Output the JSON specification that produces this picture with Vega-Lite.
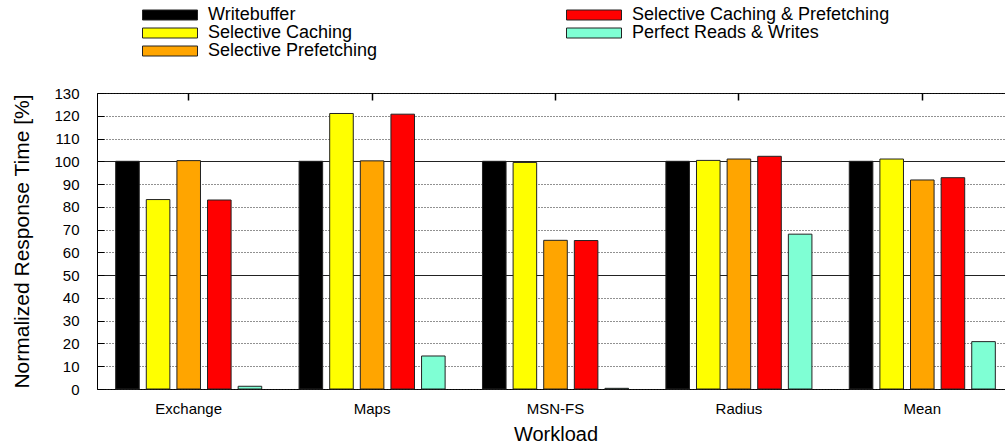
{
  "$schema": "https://vega.github.io/schema/vega-lite/v6.json",
  "autosize": {"type": "none"},
  "padding": {"left": 97, "top": 93, "right": 0, "bottom": 55},
  "width": 908,
  "height": 296,
  "background": "white",
  "data": {
    "values": [
      {"workload": "Exchange", "series": "Writebuffer", "value": 100},
      {"workload": "Exchange", "series": "Selective Caching", "value": 83.2},
      {"workload": "Exchange", "series": "Selective Prefetching", "value": 100.3},
      {"workload": "Exchange", "series": "Selective Caching & Prefetching", "value": 83},
      {"workload": "Exchange", "series": "Perfect Reads & Writes", "value": 1.2},
      {"workload": "Maps", "series": "Writebuffer", "value": 100},
      {"workload": "Maps", "series": "Selective Caching", "value": 121},
      {"workload": "Maps", "series": "Selective Prefetching", "value": 100.2},
      {"workload": "Maps", "series": "Selective Caching & Prefetching", "value": 120.7},
      {"workload": "Maps", "series": "Perfect Reads & Writes", "value": 14.5},
      {"workload": "MSN-FS", "series": "Writebuffer", "value": 100},
      {"workload": "MSN-FS", "series": "Selective Caching", "value": 99.5},
      {"workload": "MSN-FS", "series": "Selective Prefetching", "value": 65.3},
      {"workload": "MSN-FS", "series": "Selective Caching & Prefetching", "value": 65.2},
      {"workload": "MSN-FS", "series": "Perfect Reads & Writes", "value": 0.3},
      {"workload": "Radius", "series": "Writebuffer", "value": 100},
      {"workload": "Radius", "series": "Selective Caching", "value": 100.4},
      {"workload": "Radius", "series": "Selective Prefetching", "value": 101},
      {"workload": "Radius", "series": "Selective Caching & Prefetching", "value": 102.2},
      {"workload": "Radius", "series": "Perfect Reads & Writes", "value": 68},
      {"workload": "Mean", "series": "Writebuffer", "value": 100},
      {"workload": "Mean", "series": "Selective Caching", "value": 101},
      {"workload": "Mean", "series": "Selective Prefetching", "value": 91.8},
      {"workload": "Mean", "series": "Selective Caching & Prefetching", "value": 92.8},
      {"workload": "Mean", "series": "Perfect Reads & Writes", "value": 20.8}
    ]
  },
  "encoding": {
    "xOffset": {
      "field": "series",
      "type": "nominal",
      "sort": ["Writebuffer", "Selective Caching", "Selective Prefetching", "Selective Caching & Prefetching", "Perfect Reads & Writes"],
      "scale": {"paddingInner": 0.23, "paddingOuter": 0.61}
    },
    "y": {
      "field": "value",
      "type": "quantitative",
      "scale": {"domain": [0, 130], "nice": false},
      "axis": {
        "title": "Normalized Response Time [%]",
        "values": [0, 10, 20, 30, 40, 50, 60, 70, 80, 90, 100, 110, 120, 130],
        "domain": false,
        "tickSize": -7,
        "tickColor": "black",
        "labelPadding": 25,
        "labelFontSize": 15,
        "labelFont": "Liberation Sans",
        "labelColor": "black",
        "titleFont": "Liberation Sans",
        "titleFontSize": 21,
        "titleFontWeight": "normal",
        "titleColor": "black",
        "titlePadding": 21,
        "grid": true,
        "gridColor": "#222",
        "gridWidth": 1,
        "gridDash": {"condition": {"test": "datum.value == 50 || datum.value == 100", "value": []}, "value": [1, 2]}
      }
    }
  },
  "layer": [
    {
      "mark": {"type": "bar", "opacity": 0},
      "encoding": {
        "x": {
          "field": "workload",
          "type": "nominal",
          "sort": ["Exchange", "Maps", "MSN-FS", "Radius", "Mean"],
          "axis": {
            "orient": "top",
            "title": null,
            "labels": false,
            "domain": false,
            "grid": false,
            "tickSize": -7,
            "tickColor": "black",
            "tickWidth": 1.5
          }
        }
      }
    },
    {
      "mark": {"type": "bar", "stroke": "#222", "strokeWidth": 1},
      "encoding": {
        "x": {
          "field": "workload",
          "type": "nominal",
          "sort": ["Exchange", "Maps", "MSN-FS", "Radius", "Mean"],
          "scale": {"range": [0, 917], "paddingInner": 0, "paddingOuter": 0},
          "axis": {
            "orient": "bottom",
            "title": "Workload",
            "labelAngle": 0,
            "ticks": false,
            "domain": false,
            "labelPadding": 12,
            "labelFontSize": 15,
            "labelFont": "Liberation Sans",
            "labelColor": "black",
            "titleFont": "Liberation Sans",
            "titleFontSize": 20,
            "titleFontWeight": "normal",
            "titleColor": "black",
            "titlePadding": 8
          }
        },
        "color": {
          "field": "series",
          "type": "nominal",
          "scale": {
            "domain": ["Writebuffer", "Selective Caching", "Selective Prefetching", "Selective Caching & Prefetching", "Perfect Reads & Writes"],
            "range": ["#000000", "#ffff00", "#ffa500", "#ff0000", "#7fffd4"]
          },
          "legend": {
            "title": null,
            "orient": "none",
            "legendX": 64,
            "legendY": -87,
            "columns": 2,
            "columnPadding": 186,
            "rowPadding": 0,
            "padding": 0,
            "symbolType": "M-5.5,-1H5.5V1H-5.5Z",
            "symbolSize": 100,
            "symbolStrokeColor": "#222",
            "symbolStrokeWidth": 1,
            "symbolOpacity": 1,
            "labelOffset": 29,
            "labelFont": "Liberation Sans",
            "labelFontSize": 18,
            "labelColor": "black",
            "labelLimit": 400
          }
        }
      }
    }
  ],
  "resolve": {"axis": {"x": "independent"}},
  "config": {
    "view": {"stroke": "black", "strokeWidth": 1}
  }
}
